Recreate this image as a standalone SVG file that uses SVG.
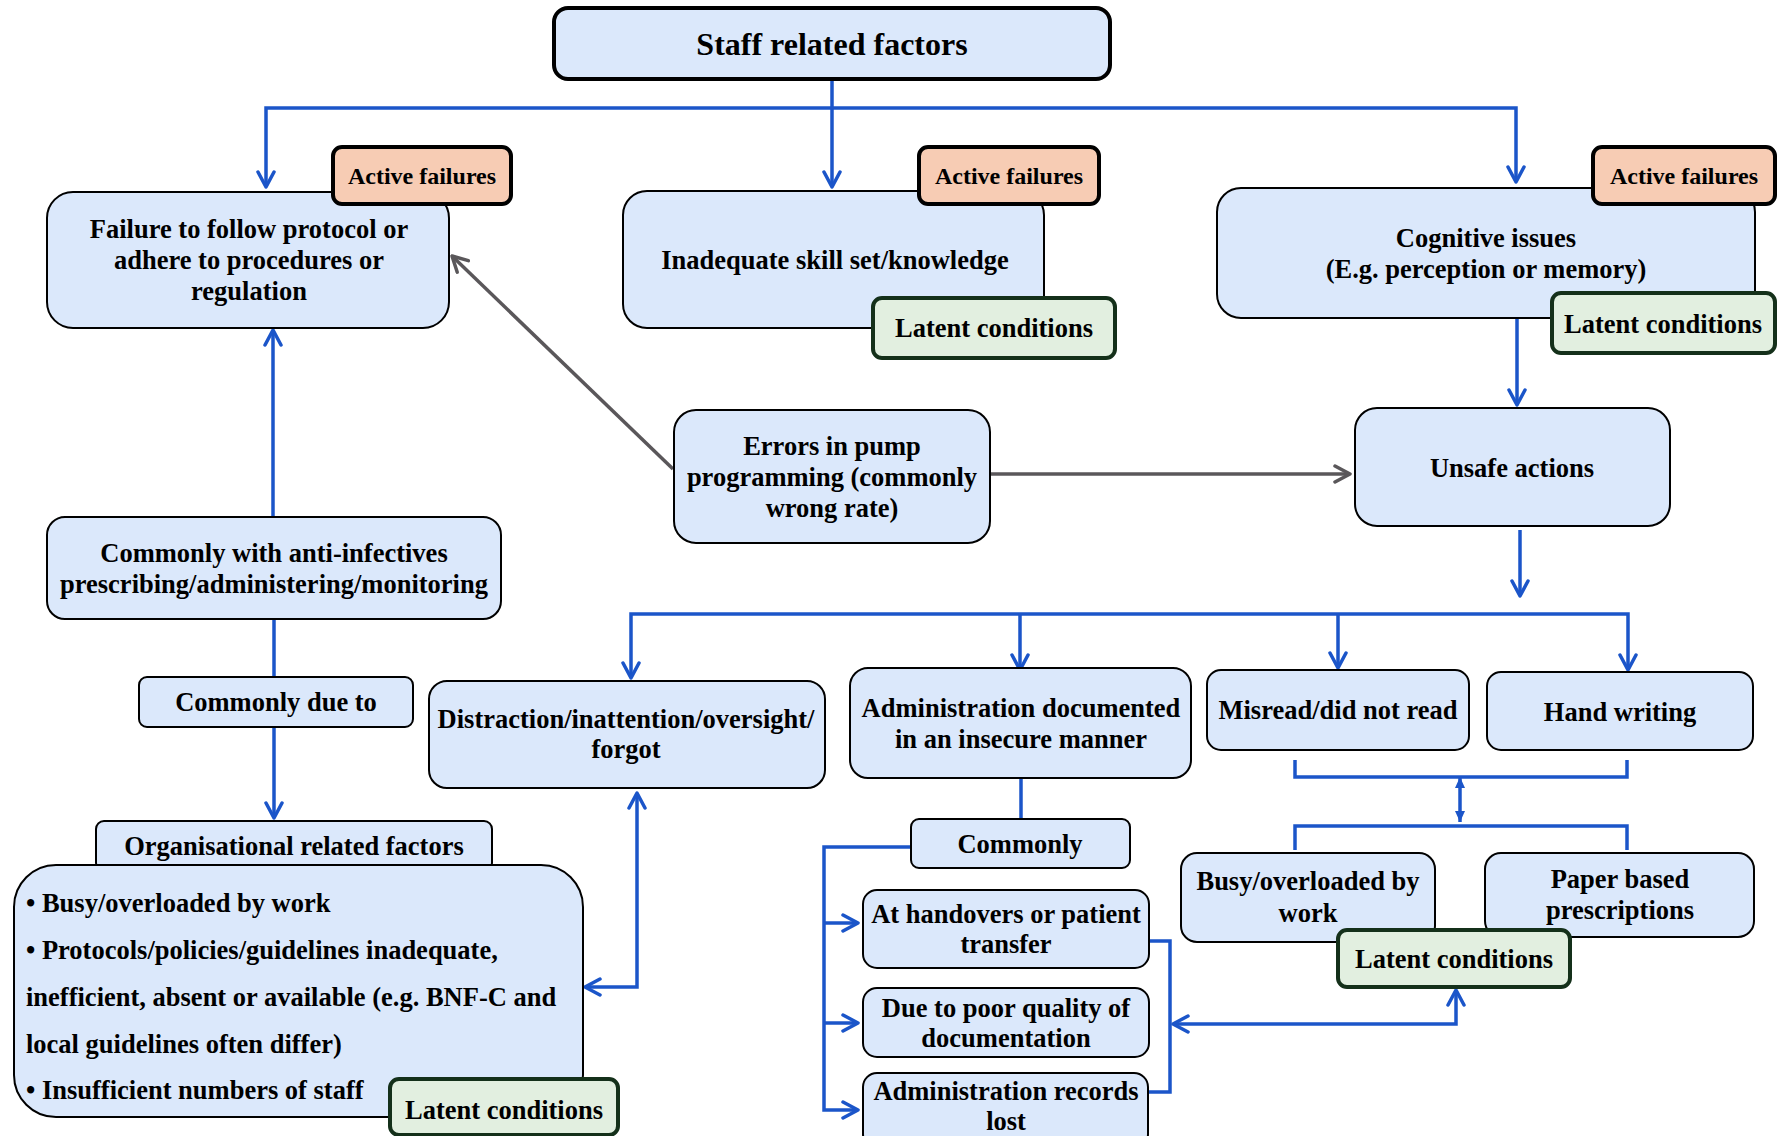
<svg xmlns="http://www.w3.org/2000/svg" width="1784" height="1136" viewBox="0 0 1784 1136">
  <style>
    .box { fill: #dbe8fb; stroke: #000; stroke-width: 2; }
    .box.main { stroke-width: 4; }
    .act { fill: #f7ccb4; stroke: #000; stroke-width: 4; }
    .lat { fill: #e2efe0; stroke: #14301a; stroke-width: 4; }
    .t { font-family: "Liberation Serif", "Times New Roman", serif; font-weight: bold; font-size: 26.5px; fill: #000; text-anchor: middle; }
    .t.title { font-size: 32px; }
    .tl { text-anchor: start; }
    .t.tag { font-size: 24px; }
    .blue { fill: none; stroke: #1b55c9; stroke-width: 3.5; }
    .gray { fill: none; stroke: #5a575a; stroke-width: 3.5; }
  </style>
  <defs>
    <marker id="ab" viewBox="0 0 20 20" refX="18" refY="10" markerWidth="20" markerHeight="20" markerUnits="userSpaceOnUse" orient="auto-start-reverse">
      <path d="M3,2 L18,10 L3,18" fill="none" stroke="#1b55c9" stroke-width="3.5" stroke-linecap="round" stroke-linejoin="round"/>
    </marker>
    <marker id="ag" viewBox="0 0 20 20" refX="18" refY="10" markerWidth="20" markerHeight="20" markerUnits="userSpaceOnUse" orient="auto-start-reverse">
      <path d="M3,2 L18,10 L3,18" fill="none" stroke="#5a575a" stroke-width="3.5" stroke-linecap="round" stroke-linejoin="round"/>
    </marker>
    <marker id="af" viewBox="0 0 12 12" refX="11" refY="6" markerWidth="12" markerHeight="12" markerUnits="userSpaceOnUse" orient="auto-start-reverse">
      <path d="M0,1 L11,6 L0,11 Z" fill="#1b55c9"/>
    </marker>
  </defs>

  <rect width="1784" height="1136" fill="#fff"/>

  <!-- connectors -->
  <g id="connectors">
    <path class="blue" d="M832 79 V187" marker-end="url(#ab)"/>
    <path class="blue" d="M266 187 V108 H1516 V182" marker-start="url(#ab)" marker-end="url(#ab)"/>
    <path class="blue" d="M1517 318 V405" marker-end="url(#ab)"/>
    <path class="blue" d="M1520 530 V596" marker-end="url(#ab)"/>
    <path class="blue" d="M631 678 V614 H1628 V670" marker-start="url(#ab)" marker-end="url(#ab)"/>
    <path class="blue" d="M1020 614 V670" marker-end="url(#ab)"/>
    <path class="blue" d="M1338 614 V668" marker-end="url(#ab)"/>
    <path class="blue" d="M273 517 V330" marker-end="url(#ab)"/>
    <path class="blue" d="M274 619 V677"/>
    <path class="blue" d="M274 727 V818" marker-end="url(#ab)"/>
    <path class="blue" d="M585 987 H637 V793" marker-start="url(#ab)" marker-end="url(#ab)"/>
    <path class="blue" d="M1021 778 V819"/>
    <path class="blue" d="M911 847 H824 V1110 H858" marker-end="url(#ab)"/>
    <path class="blue" d="M824 923 H858" marker-end="url(#ab)"/>
    <path class="blue" d="M824 1023 H858" marker-end="url(#ab)"/>
    <path class="blue" d="M1148 941 H1170 V1092 H1148"/>
    <path class="blue" d="M1173 1024 H1456 V990" marker-start="url(#ab)" marker-end="url(#ab)"/>
    <path class="blue" d="M1295 760 V777 H1627 V760"/>
    <path class="blue" d="M1460 777 V822" marker-start="url(#af)" marker-end="url(#af)"/>
    <path class="blue" d="M1295 850 V826 H1627 V850"/>
    <path class="gray" d="M673 469 L452 256" marker-end="url(#ag)"/>
    <path class="gray" d="M990 474 H1350" marker-end="url(#ag)"/>
  </g>

  <!-- top level -->
  <g id="staff">
    <rect class="box main" x="554" y="8" width="556" height="71" rx="14"/>
    <text class="t title" x="832" y="55">Staff related factors</text>
  </g>

  <g id="failure">
    <rect class="box" x="47" y="192" width="402" height="136" rx="26"/>
    <text class="t" x="249" y="238">Failure to follow protocol or</text>
    <text class="t" x="249" y="269">adhere to procedures or</text>
    <text class="t" x="249" y="300">regulation</text>
  </g>
  <g id="active1">
    <rect class="act" x="333" y="147" width="178" height="57" rx="9"/>
    <text class="t tag" x="422" y="184">Active failures</text>
  </g>

  <g id="inadequate">
    <rect class="box" x="623" y="191" width="421" height="137" rx="24"/>
    <text class="t" x="835" y="269">Inadequate skill set/knowledge</text>
  </g>
  <g id="active2">
    <rect class="act" x="919" y="147" width="180" height="57" rx="9"/>
    <text class="t tag" x="1009" y="184">Active failures</text>
  </g>
  <g id="latent2">
    <rect class="lat" x="873" y="298" width="242" height="60" rx="9"/>
    <text class="t" x="994" y="337">Latent conditions</text>
  </g>

  <g id="cognitive">
    <rect class="box" x="1217" y="188" width="538" height="130" rx="24"/>
    <text class="t" x="1486" y="247">Cognitive issues</text>
    <text class="t" x="1486" y="278">(E.g. perception or memory)</text>
  </g>
  <g id="active3">
    <rect class="act" x="1593" y="147" width="182" height="57" rx="9"/>
    <text class="t tag" x="1684" y="184">Active failures</text>
  </g>
  <g id="latent3">
    <rect class="lat" x="1552" y="293" width="223" height="60" rx="9"/>
    <text class="t" x="1663" y="333">Latent conditions</text>
  </g>

  <!-- middle -->
  <g id="errors">
    <rect class="box" x="674" y="410" width="316" height="133" rx="22"/>
    <text class="t" x="832" y="455">Errors in pump</text>
    <text class="t" x="832" y="486">programming (commonly</text>
    <text class="t" x="832" y="517">wrong rate)</text>
  </g>

  <g id="unsafe">
    <rect class="box" x="1355" y="408" width="315" height="118" rx="22"/>
    <text class="t" x="1512" y="477">Unsafe actions</text>
  </g>

  <g id="antiinfectives">
    <rect class="box" x="47" y="517" width="454" height="102" rx="18"/>
    <text class="t" x="274" y="562">Commonly with anti-infectives</text>
    <text class="t" x="274" y="593">prescribing/administering/monitoring</text>
  </g>

  <g id="duetoLabel">
    <rect class="box" x="139" y="677" width="274" height="50" rx="8"/>
    <text class="t" x="276" y="711">Commonly due to</text>
  </g>

  <g id="distraction">
    <rect class="box" x="429" y="681" width="396" height="107" rx="18"/>
    <text class="t" x="626" y="728">Distraction/inattention/oversight/</text>
    <text class="t" x="626" y="758">forgot</text>
  </g>

  <g id="adminDocumented">
    <rect class="box" x="850" y="668" width="341" height="110" rx="18"/>
    <text class="t" x="1021" y="717">Administration documented</text>
    <text class="t" x="1021" y="748">in an insecure manner</text>
  </g>

  <g id="misread">
    <rect class="box" x="1207" y="670" width="262" height="80" rx="14"/>
    <text class="t" x="1338" y="719">Misread/did not read</text>
  </g>

  <g id="handwriting">
    <rect class="box" x="1487" y="672" width="266" height="78" rx="14"/>
    <text class="t" x="1620" y="721">Hand writing</text>
  </g>

  <!-- organisational factors -->
  <g id="organisational">
    <rect class="box" x="96" y="821" width="396" height="50" rx="8"/>
    <text class="t" x="294" y="855">Organisational related factors</text>
    <rect class="box" x="14" y="865" width="569" height="252" rx="42"/>
    <text class="t tl" x="26" y="912">• Busy/overloaded by work</text>
    <text class="t tl" x="26" y="959">• Protocols/policies/guidelines inadequate,</text>
    <text class="t tl" x="26" y="1006">inefficient, absent or available (e.g. BNF-C and</text>
    <text class="t tl" x="26" y="1053">local guidelines often differ)</text>
    <text class="t tl" x="26" y="1099">• Insufficient numbers of staff</text>
  </g>
  <g id="latent1">
    <rect class="lat" x="390" y="1079" width="228" height="56" rx="9"/>
    <text class="t" x="504" y="1119">Latent conditions</text>
  </g>

  <!-- documentation branch -->
  <g id="commonly">
    <rect class="box" x="911" y="819" width="219" height="49" rx="8"/>
    <text class="t" x="1020" y="853">Commonly</text>
  </g>
  <g id="handovers">
    <rect class="box" x="863" y="890" width="286" height="78" rx="14"/>
    <text class="t" x="1006" y="923">At handovers or patient</text>
    <text class="t" x="1006" y="953">transfer</text>
  </g>
  <g id="poorQuality">
    <rect class="box" x="863" y="988" width="286" height="69" rx="14"/>
    <text class="t" x="1006" y="1017">Due to poor quality of</text>
    <text class="t" x="1006" y="1047">documentation</text>
  </g>
  <g id="recordsLost">
    <rect class="box" x="863" y="1073" width="285" height="75" rx="14"/>
    <text class="t" x="1006" y="1100">Administration records</text>
    <text class="t" x="1006" y="1130">lost</text>
  </g>

  <!-- prescription branch -->
  <g id="busy">
    <rect class="box" x="1181" y="853" width="254" height="89" rx="16"/>
    <text class="t" x="1308" y="890">Busy/overloaded by</text>
    <text class="t" x="1308" y="922">work</text>
  </g>
  <g id="paper">
    <rect class="box" x="1485" y="853" width="269" height="84" rx="16"/>
    <text class="t" x="1620" y="888">Paper based</text>
    <text class="t" x="1620" y="919">prescriptions</text>
  </g>
  <g id="latent4">
    <rect class="lat" x="1338" y="930" width="232" height="57" rx="9"/>
    <text class="t" x="1454" y="968">Latent conditions</text>
  </g>
</svg>
